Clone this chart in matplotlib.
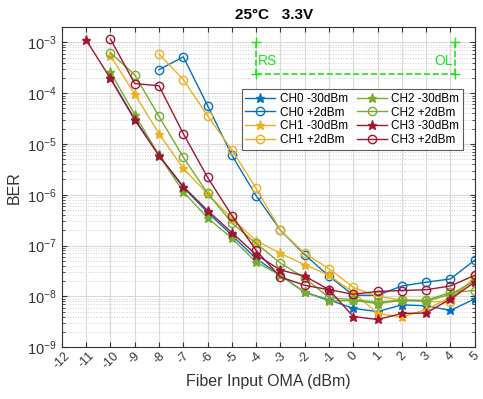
import matplotlib
matplotlib.use("Agg")
import matplotlib.pyplot as plt
import numpy as np
from matplotlib.ticker import LogLocator, NullFormatter, FixedLocator

plt.rcParams['font.family'] = ['Liberation Sans', 'DejaVu Sans']
plt.rcParams['mathtext.fontset'] = 'custom'
plt.rcParams['mathtext.rm'] = 'Liberation Sans'
plt.rcParams['mathtext.it'] = 'Liberation Sans:italic'

x_all = list(range(-12, 6))

x_ch0_m30 = list(range(-10, 6))
ber_ch0_m30 = [2.0e-4, 3.1e-5, 6.0e-6, 1.4e-6, 4.5e-7, 1.6e-7, 5.5e-8, 2.6e-8, 1.2e-8, 8.5e-9, 5.8e-9, 5.0e-9, 6.8e-9, 6.5e-9, 5.3e-9, 8.9e-9]
x_ch0_p2 = list(range(-8, 6))
ber_ch0_p2 = [2.9e-4, 5.2e-4, 5.7e-5, 6.0e-6, 9.6e-7, 2.0e-7, 6.6e-8, 2.5e-8, 1.05e-8, 1.05e-8, 1.6e-8, 1.9e-8, 2.2e-8, 5.2e-8]
x_ch1_m30 = list(range(-10, 6))
ber_ch1_m30 = [5.5e-4, 9.6e-5, 1.6e-5, 3.3e-6, 1.05e-6, 3.4e-7, 1.25e-7, 7.0e-8, 4.2e-8, 2.6e-8, 1.2e-8, 4.6e-9, 3.9e-9, 5.5e-9, 9.5e-9, 2.2e-8]
x_ch1_p2 = list(range(-8, 6))
ber_ch1_p2 = [5.9e-4, 1.85e-4, 3.6e-5, 7.6e-6, 1.34e-6, 2.0e-7, 7.0e-8, 3.5e-8, 1.5e-8, 1.0e-8, 8.5e-9, 8.0e-9, 7.7e-9, 2.5e-8]
x_ch2_m30 = list(range(-10, 6))
ber_ch2_m30 = [2.6e-4, 3.8e-5, 6.0e-6, 1.15e-6, 3.5e-7, 1.4e-7, 4.7e-8, 2.6e-8, 1.2e-8, 8.1e-9, 8.3e-9, 7.2e-9, 8.3e-9, 8.0e-9, 1.1e-8, 2.0e-8]
x_ch2_p2 = list(range(-10, 6))
ber_ch2_p2 = [6.3e-4, 2.3e-4, 3.5e-5, 5.5e-6, 1.07e-6, 2.8e-7, 1.1e-7, 4.5e-8, 2.3e-8, 9.4e-9, 8.6e-9, 7.7e-9, 8.5e-9, 8.3e-9, 1.2e-8, 1.3e-8]
x_ch3_m30 = list(range(-11, 6))
ber_ch3_m30 = [1.12e-3, 1.95e-4, 3.0e-5, 5.9e-6, 1.45e-6, 4.9e-7, 1.8e-7, 6.6e-8, 3.3e-8, 2.5e-8, 1.35e-8, 4.0e-9, 3.5e-9, 4.6e-9, 4.7e-9, 8.9e-9, 1.9e-8]
x_ch3_p2 = list(range(-10, 6))
ber_ch3_p2 = [1.17e-3, 1.55e-4, 1.4e-4, 1.6e-5, 2.2e-6, 3.9e-7, 8.0e-8, 2.4e-8, 1.65e-8, 1.35e-8, 1.1e-8, 1.25e-8, 1.3e-8, 1.35e-8, 1.6e-8, 2.6e-8]

labels = ["CH0 -30dBm", "CH0 +2dBm", "CH1 -30dBm", "CH1 +2dBm",
          "CH2 -30dBm", "CH2 +2dBm", "CH3 -30dBm", "CH3 +2dBm"]

rs_x = -4
ol_x = 4.2
limit_top = 1e-3
limit_bottom = 2.4e-4

c0 = (0.0, 0.447, 0.741)
c1 = (0.929, 0.694, 0.125)
c2 = (0.466, 0.674, 0.188)
c3 = (0.635, 0.078, 0.184)

fig = plt.figure(figsize=(4.83, 3.99), dpi=100)
ax = fig.add_axes([0.128, 0.130, 0.855, 0.802])

series = [
    (x_ch0_m30, ber_ch0_m30, c0, '*'),
    (x_ch0_p2, ber_ch0_p2, c0, 'o'),
    (x_ch1_m30, ber_ch1_m30, c1, '*'),
    (x_ch1_p2, ber_ch1_p2, c1, 'o'),
    (x_ch2_m30, ber_ch2_m30, c2, '*'),
    (x_ch2_p2, ber_ch2_p2, c2, 'o'),
    (x_ch3_m30, ber_ch3_m30, c3, '*'),
    (x_ch3_p2, ber_ch3_p2, c3, 'o'),
]
for (xs, ys, c, m), lab in zip(series, labels):
    if m == 'o':
        ax.plot(xs, ys, color=c, marker='o', markersize=6, markerfacecolor='none',
                markeredgewidth=1.0, linewidth=1.0, label=lab)
    else:
        ax.plot(xs, ys, color=c, marker='*', markersize=6.5,
                linewidth=1.0, label=lab)

g = (0.1, 0.9, 0.1)
ax.plot([rs_x, rs_x], [limit_top, limit_bottom], color=g, ls='--', marker='+', ms=7, lw=1.2)
ax.plot([ol_x, ol_x], [limit_top, limit_bottom], color=g, ls='--', marker='+', ms=7, lw=1.2)
ax.plot([rs_x, ol_x], [limit_bottom, limit_bottom], color=g, ls='--', lw=1.2)
ax.text(rs_x + 0.05, 4.3e-4, "RS", color=g, fontsize=10, ha='left', va='center')
ax.text(ol_x - 0.1, 4.3e-4, "OL", color=g, fontsize=10, ha='right', va='center')

ax.set_yscale('log')
ax.set_xlim(-12, 5)
ax.set_ylim(1e-9, 2e-3)
ax.xaxis.set_major_locator(FixedLocator(x_all))
ax.set_xticklabels([str(v) for v in x_all], rotation=45, ha='center', fontsize=9, color='#333333')
ax.tick_params(axis='x', pad=2)
ax.yaxis.set_major_locator(LogLocator(base=10, numticks=20))
ax.yaxis.set_minor_locator(LogLocator(base=10, subs=np.arange(2, 10), numticks=20))
ax.yaxis.set_minor_formatter(NullFormatter())
ax.tick_params(axis='y', labelsize=10.5, labelcolor='#333333')
ax.tick_params(which='both', direction='in', top=True, right=True, color='#333333')
ax.tick_params(which='minor', length=2)

ax.grid(True, which='major', color='#d9d9d9', lw=0.8)
ax.grid(True, which='minor', axis='y', color='#d0d0d0', ls=':', lw=0.7)
ax.set_axisbelow(True)
for s in ax.spines.values():
    s.set_color('#333333')
    s.set_linewidth(0.8)

ax.set_xlabel("Fiber Input OMA (dBm)", fontsize=11.5, color='#333333', labelpad=2)
ax.set_ylabel("BER", fontsize=11.5, color='#333333')
ax.text(0.515, 1.015, "25°C   3.3V", transform=ax.transAxes, fontsize=11,
        fontweight='bold', ha='center', va='bottom')

leg = ax.legend(ncol=2, loc='upper left', bbox_to_anchor=(0.436, 0.806), borderaxespad=0,
                fontsize=8.5, frameon=True, fancybox=False, edgecolor='#333333', handlelength=2.5,
                columnspacing=0.8, labelspacing=0.15, borderpad=0.3, handletextpad=0.4)
leg.get_frame().set_linewidth(0.8)

fig.savefig("out.png", dpi=100)
